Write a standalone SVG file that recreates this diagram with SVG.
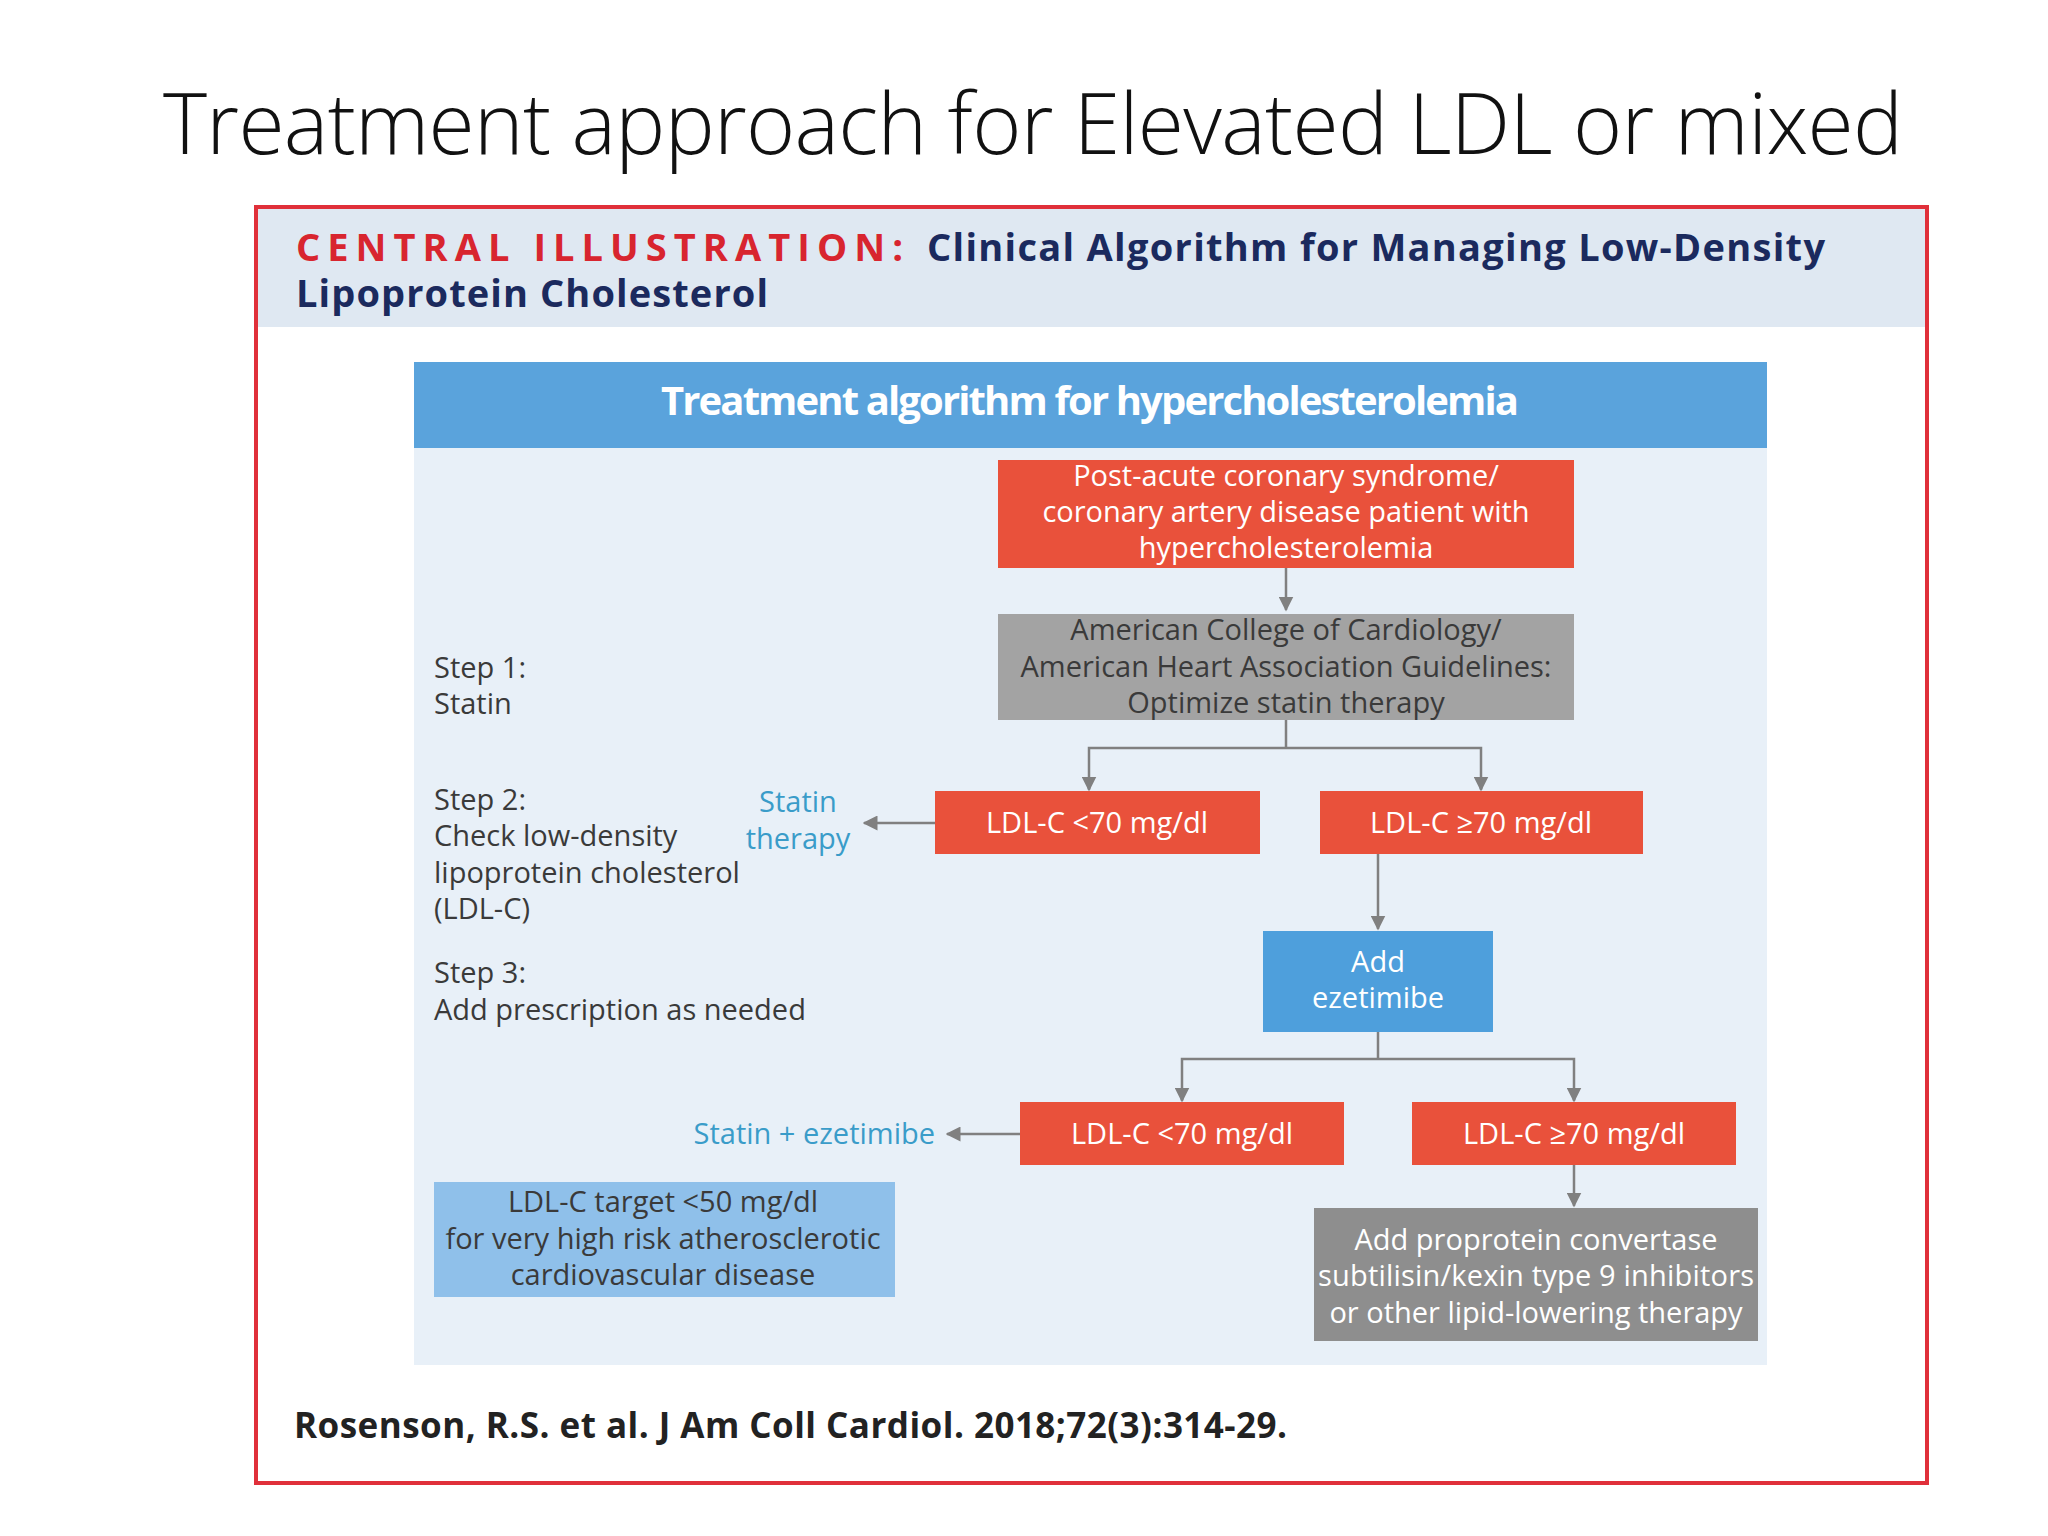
<svg xmlns="http://www.w3.org/2000/svg" width="2048" height="1536" viewBox="0 0 2048 1536">
<style>
text{font-family:"Open Sans","Noto Sans",sans-serif}
.red{fill:#e9513b}
.gry{fill:#a3a3a3}
.wt{fill:#fff;font-size:29px;text-anchor:middle}
.dk{fill:#3a3a3a;font-size:29px;text-anchor:middle}
.st{fill:#3a3a3a;font-size:29px}
.cy{fill:#3a9cc9;font-size:29px;text-anchor:middle}
.ln{stroke:#808080;stroke-width:2.5;fill:none}
</style>
<defs><marker id="ah" viewBox="0 0 10 10" refX="9" refY="5" markerWidth="6" markerHeight="6" orient="auto"><path d="M0,0L10,5L0,10z" fill="#808080"/></marker></defs>
<rect width="2048" height="1536" fill="#fff"/>
<text x="1033" y="154" font-size="84" text-anchor="middle" fill="#111" font-family="'Open Sans',sans-serif" font-weight="300" textLength="1740">Treatment approach for Elevated LDL or mixed</text>
<rect x="256" y="207" width="1671" height="1276" fill="#fff" stroke="#e0303a" stroke-width="4"/>
<rect x="258" y="209" width="1667" height="118" fill="#dfe8f2"/>
<text x="296" y="261" font-size="38" font-weight="bold" fill="#d8252f" letter-spacing="3" textLength="610">CENTRAL ILLUSTRATION:</text>
<text x="927" y="261" font-size="38" font-weight="bold" fill="#1b2a5e" textLength="898">Clinical Algorithm for Managing Low-Density</text>
<text x="296" y="307" font-size="38" font-weight="bold" fill="#1b2a5e" textLength="472">Lipoprotein Cholesterol</text>
<rect x="414" y="362" width="1353" height="1003" fill="#e8f0f8"/>
<rect x="414" y="362" width="1353" height="86" fill="#5aa3dc"/>
<text x="1090" y="415" font-size="40" font-weight="bold" fill="#fff" text-anchor="middle" textLength="858">Treatment algorithm for hypercholesterolemia</text>
<g id="steps">
<text class="st" x="434" y="678">Step 1:</text><text class="st" x="434" y="714">Statin</text>
<text class="st" x="434" y="810">Step 2:</text><text class="st" x="434" y="846">Check low-density</text><text class="st" x="434" y="883">lipoprotein cholesterol</text><text class="st" x="434" y="919">(LDL-C)</text>
<text class="st" x="434" y="983">Step 3:</text><text class="st" x="434" y="1020">Add prescription as needed</text>
</g>
<g id="connectors">
<path class="ln" d="M1286,568V610" marker-end="url(#ah)"/>
<path class="ln" d="M1286,720V748H1089V789M1286,748H1481V789" />
<path class="ln" d="M1089,780V790" marker-end="url(#ah)"/>
<path class="ln" d="M1481,780V790" marker-end="url(#ah)"/>
<path class="ln" d="M935,823H864" marker-end="url(#ah)"/>
<path class="ln" d="M1378,854V929" marker-end="url(#ah)"/>
<path class="ln" d="M1378,1032V1059H1182V1100M1378,1059H1574V1100"/>
<path class="ln" d="M1182,1090V1101" marker-end="url(#ah)"/>
<path class="ln" d="M1574,1090V1101" marker-end="url(#ah)"/>
<path class="ln" d="M1020,1134H947" marker-end="url(#ah)"/>
<path class="ln" d="M1574,1165V1206" marker-end="url(#ah)"/>
</g>
<g id="n1"><rect class="red" x="998" y="460" width="576" height="108"/>
<text class="wt" x="1286" y="486">Post-acute coronary syndrome/</text><text class="wt" x="1286" y="522">coronary artery disease patient with</text><text class="wt" x="1286" y="558">hypercholesterolemia</text></g>
<g id="n2"><rect class="gry" x="998" y="614" width="576" height="106"/>
<text class="dk" x="1286" y="640">American College of Cardiology/</text><text class="dk" x="1286" y="677">American Heart Association Guidelines:</text><text class="dk" x="1286" y="713">Optimize statin therapy</text></g>
<g id="n3"><rect class="red" x="935" y="791" width="325" height="63"/><text class="wt" x="1097" y="833">LDL-C &lt;70 mg/dl</text></g>
<g id="n4"><rect class="red" x="1320" y="791" width="323" height="63"/><text class="wt" x="1481" y="833">LDL-C ≥70 mg/dl</text></g>
<g id="n5"><text class="cy" x="798" y="812">Statin</text><text class="cy" x="798" y="849">therapy</text></g>
<g id="n6"><rect x="1263" y="931" width="230" height="101" fill="#4e9fdc"/><text class="wt" x="1378" y="972">Add</text><text class="wt" x="1378" y="1008">ezetimibe</text></g>
<g id="n7"><rect class="red" x="1020" y="1102" width="324" height="63"/><text class="wt" x="1182" y="1144">LDL-C &lt;70 mg/dl</text></g>
<g id="n8"><rect class="red" x="1412" y="1102" width="324" height="63"/><text class="wt" x="1574" y="1144">LDL-C ≥70 mg/dl</text></g>
<g id="n9"><text class="cy" x="935" y="1144" style="text-anchor:end">Statin + ezetimibe</text></g>
<g id="n10"><rect x="434" y="1182" width="461" height="115" fill="#8fc0ea"/>
<text class="dk" x="663" y="1212">LDL-C target &lt;50 mg/dl</text><text class="dk" x="663" y="1249">for very high risk atherosclerotic</text><text class="dk" x="663" y="1285">cardiovascular disease</text></g>
<g id="n11"><rect x="1314" y="1208" width="444" height="133" fill="#8e8e8e"/>
<text class="wt" x="1536" y="1250">Add proprotein convertase</text><text class="wt" x="1536" y="1286" textLength="436">subtilisin/kexin type 9 inhibitors</text><text class="wt" x="1536" y="1323">or other lipid-lowering therapy</text></g>
<text x="294" y="1438" font-size="35" font-weight="bold" fill="#222" textLength="993">Rosenson, R.S. et al. J Am Coll Cardiol. 2018;72(3):314-29.</text>
</svg>
